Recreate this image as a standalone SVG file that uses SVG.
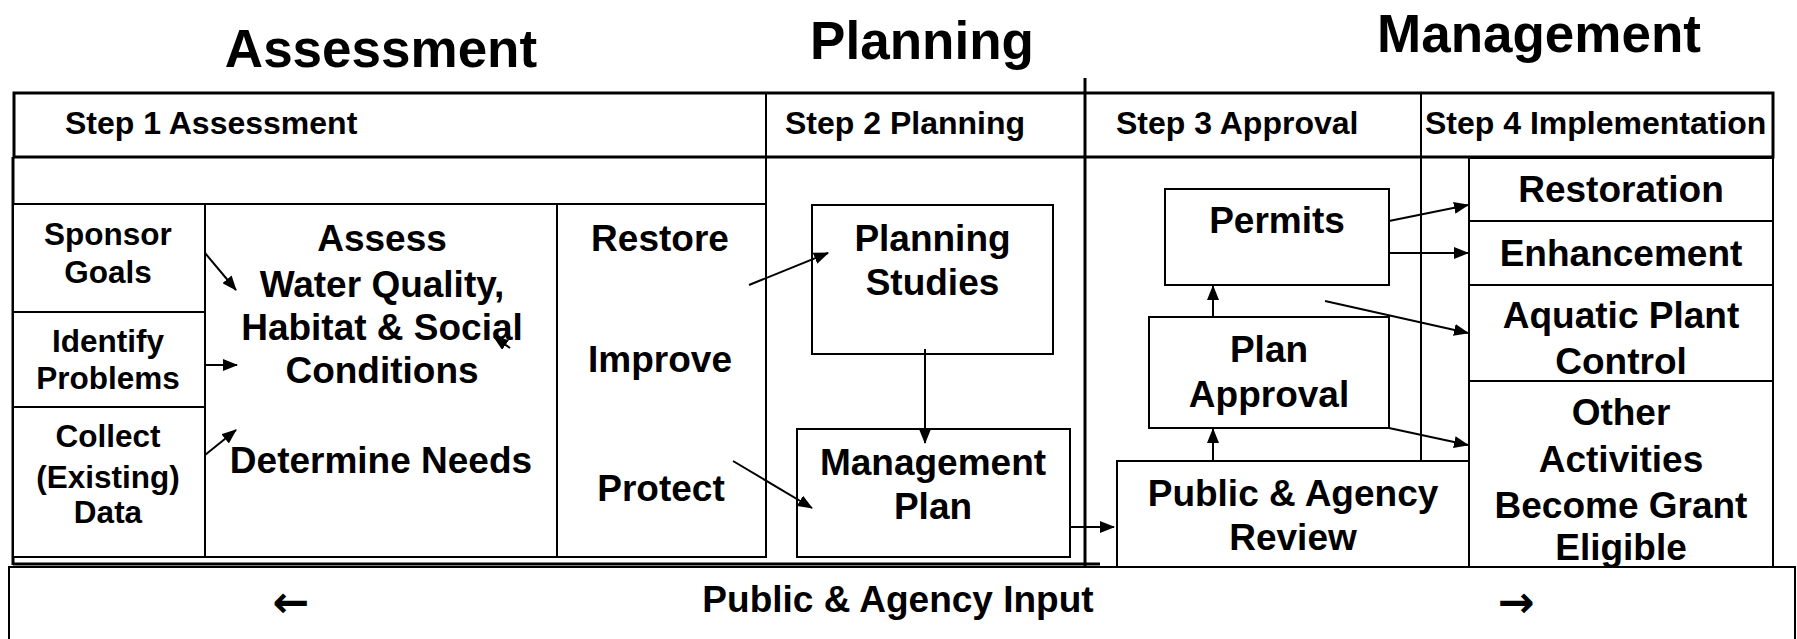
<svg xmlns="http://www.w3.org/2000/svg" width="1797" height="639" viewBox="0 0 1797 639">
<style>
text{font-family:"Liberation Sans",Arial,sans-serif;font-weight:bold;fill:#000}
.t{font-size:53px;text-anchor:middle}
.h{font-size:32px}
.s{font-size:31.5px;text-anchor:middle}
.m{font-size:37px;text-anchor:middle}
.ar{font-family:"DejaVu Sans",sans-serif;font-weight:bold;font-size:44px;text-anchor:middle}
.b{fill:#fff;stroke:#000;stroke-width:2}
.ln{stroke:#000;stroke-width:2;fill:none}
.thk{stroke:#000;stroke-width:3;fill:none}
.c line{stroke:#000;stroke-width:2}
</style>
<defs>
<marker id="ah" markerUnits="userSpaceOnUse" markerWidth="15" markerHeight="12" viewBox="0 0 15 12" refX="14" refY="6" orient="auto"><path d="M0,0 L15,6 L0,12 z" fill="#000"/></marker>
</defs>
<rect width="1797" height="639" fill="#fff"/>
<g id="titles">
<text class="t" x="381" y="67">Assessment</text>
<text class="t" x="922" y="59">Planning</text>
<text class="t" x="1539" y="52">Management</text>
</g>
<g id="frame">
<rect x="9" y="567" width="1786" height="80" class="b"/>
<rect x="14" y="93" width="1759" height="64" fill="none" stroke="#000" stroke-width="3"/>
<line x1="766" y1="93" x2="766" y2="557" class="ln" stroke-width="2.5"/>
<line x1="1421" y1="93" x2="1421" y2="461" class="ln" stroke-width="2.5"/>
<line x1="13" y1="157" x2="13" y2="565" class="thk"/>
<line x1="13" y1="204" x2="766" y2="204" class="ln"/>
<line x1="13" y1="557" x2="766" y2="557" class="ln"/>
<line x1="13" y1="564" x2="1100" y2="564" class="thk"/>
<line x1="1085" y1="78" x2="1085" y2="566" class="thk"/>
<text class="h" x="65" y="134">Step 1 Assessment</text>
<text class="h" x="785" y="134">Step 2 Planning</text>
<text class="h" x="1116" y="134">Step 3 Approval</text>
<text class="h" x="1425" y="134">Step 4 Implementation</text>
</g>
<g id="sponsor-goals">
<rect x="13" y="204" width="192" height="108" class="b"/>
<text class="s" x="108" y="245">Sponsor</text>
<text class="s" x="108" y="283">Goals</text>
</g>
<g id="identify-problems">
<rect x="13" y="312" width="192" height="95" class="b"/>
<text class="s" x="108" y="352">Identify</text>
<text class="s" x="108" y="389">Problems</text>
</g>
<g id="collect-data">
<rect x="13" y="407" width="192" height="150" class="b"/>
<text class="s" x="108" y="447">Collect</text>
<text class="s" x="108" y="488">(Existing)</text>
<text class="s" x="108" y="523">Data</text>
</g>
<g id="assess">
<rect x="205" y="204" width="352" height="353" fill="none" stroke="#000" stroke-width="2"/>
<text class="m" x="382" y="251">Assess</text>
<text class="m" x="382" y="297">Water Quality,</text>
<text class="m" x="382" y="340">Habitat &amp; Social</text>
<text class="m" x="382" y="383">Conditions</text>
<text class="m" x="381" y="473">Determine Needs</text>
</g>
<g id="goals">
<rect x="557" y="204" width="209" height="353" fill="none" stroke="#000" stroke-width="2"/>
<text class="m" x="660" y="251">Restore</text>
<text class="m" x="660" y="372">Improve</text>
<text class="m" x="661" y="501">Protect</text>
</g>
<g id="planning-studies">
<rect x="812" y="205" width="241" height="149" class="b"/>
<text class="m" x="932.5" y="251">Planning</text>
<text class="m" x="932.5" y="295">Studies</text>
</g>
<g id="management-plan">
<rect x="797" y="429" width="273" height="128" class="b"/>
<text class="m" x="933" y="475">Management</text>
<text class="m" x="933" y="519">Plan</text>
</g>
<g id="permits">
<rect x="1165" y="189" width="224" height="96" class="b"/>
<text class="m" x="1277" y="233">Permits</text>
</g>
<g id="plan-approval">
<rect x="1149" y="317" width="240" height="111" class="b"/>
<text class="m" x="1269" y="362">Plan</text>
<text class="m" x="1269" y="407">Approval</text>
</g>
<g id="public-review">
<rect x="1117" y="461" width="352" height="106" class="b"/>
<text class="m" x="1293" y="506">Public &amp; Agency</text>
<text class="m" x="1293" y="550">Review</text>
</g>
<g id="restoration">
<rect x="1469" y="158" width="304" height="63" class="b"/>
<text class="m" x="1621" y="202">Restoration</text>
</g>
<g id="enhancement">
<rect x="1469" y="221" width="304" height="64" class="b"/>
<text class="m" x="1621" y="266">Enhancement</text>
</g>
<g id="aquatic-plant-control">
<rect x="1469" y="285" width="304" height="96" class="b"/>
<text class="m" x="1621" y="328">Aquatic Plant</text>
<text class="m" x="1621" y="374">Control</text>
</g>
<g id="other-activities">
<rect x="1469" y="381" width="304" height="186" class="b"/>
<text class="m" x="1621" y="425">Other</text>
<text class="m" x="1621" y="472">Activities</text>
<text class="m" x="1621" y="518">Become Grant</text>
<text class="m" x="1621" y="560">Eligible</text>
</g>
<g id="public-input">
<text class="m" x="898" y="612">Public &amp; Agency Input</text>
<text class="ar" x="291" y="617">←</text>
<text class="ar" x="1516" y="617">→</text>
</g>
<g id="connectors" class="c">
<line x1="205" y1="253" x2="236" y2="290" marker-end="url(#ah)"/>
<line x1="205" y1="365" x2="237" y2="365" marker-end="url(#ah)"/>
<line x1="205" y1="455" x2="236" y2="430" marker-end="url(#ah)"/>
<line x1="510" y1="348" x2="494" y2="337" marker-end="url(#ah)"/>
<line x1="749" y1="285" x2="828" y2="253" marker-end="url(#ah)"/>
<line x1="733" y1="461" x2="812" y2="508" marker-end="url(#ah)"/>
<line x1="925" y1="349" x2="925" y2="443" marker-end="url(#ah)"/>
<line x1="1071" y1="527" x2="1114" y2="527" marker-end="url(#ah)"/>
<line x1="1213" y1="461" x2="1213" y2="429" marker-end="url(#ah)"/>
<line x1="1213" y1="317" x2="1213" y2="286" marker-end="url(#ah)"/>
<line x1="1389" y1="221" x2="1468" y2="205" marker-end="url(#ah)"/>
<line x1="1389" y1="253" x2="1468" y2="253" marker-end="url(#ah)"/>
<line x1="1325" y1="301" x2="1468" y2="333" marker-end="url(#ah)"/>
<line x1="1389" y1="428" x2="1468" y2="445" marker-end="url(#ah)"/>
</g>
</svg>
